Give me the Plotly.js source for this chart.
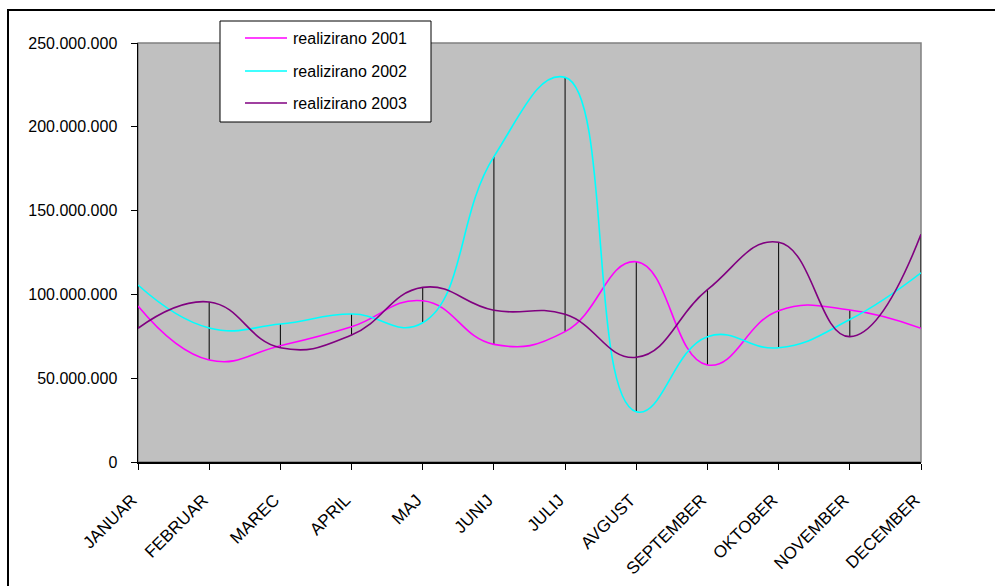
<!DOCTYPE html>
<html>
<head>
<meta charset="utf-8">
<script src="https://cdn.plot.ly/plotly-3.0.1.min.js"></script>
<style>
  html, body { margin: 0; padding: 0; background: #fff; }
  #wrap { position: relative; width: 995px; height: 586px; overflow: hidden; }
  #chart { position: absolute; left: 0; top: 0; width: 995px; height: 586px; }
  #frame { position: absolute; left: 7px; top: 9px; width: 1100px; height: 700px;
           border-left: 2px solid #000; border-top: 2px solid #000; pointer-events: none; }
</style>
</head>
<body>
<div id="wrap">
  <div id="chart"></div>
  <div id="frame"></div>
</div>
<script>
const months = ["JANUAR","FEBRUAR","MAREC","APRIL","MAJ","JUNIJ","JULIJ","AVGUST","SEPTEMBER","OKTOBER","NOVEMBER","DECEMBER"];
const real2001 = [93100000, 60900000, 69400000, 80700000, 96200000, 70200000, 77800000, 119500000, 57900000, 90300000, 90700000, 79800000];
const real2002 = [105600000, 80000000, 82300000, 88300000, 83100000, 182200000, 229500000, 30000000, 74800000, 68200000, 85000000, 112900000];
const real2003 = [79800000, 95500000, 68200000, 75800000, 104200000, 90500000, 88100000, 62500000, 102800000, 131100000, 74800000, 135800000];
const seriesNames = ["realizirano 2001", "realizirano 2002", "realizirano 2003"];
const colors = ["#FF00FF", "#00FFFF", "#800080"];
const allSeries = [real2001, real2002, real2003];

// high-low lines built from the data
const hlX = [], hlY = [];
months.forEach((m, i) => {
  const vals = allSeries.map(s => s[i]);
  hlX.push(m, m, null);
  hlY.push(Math.max(...vals), Math.min(...vals), null);
});

const data = [
  { x: hlX, y: hlY, type: "scatter", mode: "lines", line: { color: "#000", width: 1 },
    showlegend: false, hoverinfo: "skip", connectgaps: false }
];
allSeries.forEach((s, k) => {
  data.push({ x: months, y: s, name: seriesNames[k], type: "scatter", mode: "lines",
    line: { color: colors[k], width: 1.6, shape: "spline", smoothing: 1.3 }, showlegend: false });
});

// custom legend box (pixel geometry converted to paper coords)
const L = 138, R = 921, T = 43, B = 462;
const px = x => (x - L) / (R - L);
const py = y => (B - y) / (B - T);
const shapes = [
  { type: "rect", xref: "paper", yref: "paper", x0: 0, x1: 1, y0: 0, y1: 1,
    line: { color: "#808080", width: 1.5 }, layer: "below" },
  { type: "rect", xref: "paper", yref: "paper", x0: px(220), x1: px(431), y0: py(122), y1: py(21),
    fillcolor: "#fff", line: { color: "#000", width: 1 }, layer: "above" }
];
const annotations = [];
const rowY = [38, 71, 103];
seriesNames.forEach((n, k) => {
  shapes.push({ type: "line", xref: "paper", yref: "paper", x0: px(245), x1: px(287),
    y0: py(rowY[k]), y1: py(rowY[k]), line: { color: colors[k], width: 1.6 }, layer: "above" });
  annotations.push({ xref: "paper", yref: "paper", x: px(291), y: py(rowY[k]), text: n,
    showarrow: false, xanchor: "left", yanchor: "middle", font: { size: 16, color: "#000" } });
});

const layout = {
  width: 995, height: 586,
  margin: { l: 138, r: 74, t: 43, b: 124 },
  paper_bgcolor: "#fff",
  plot_bgcolor: "#C0C0C0",
  separators: ",.",
  font: { family: "Liberation Sans, Arial, sans-serif", size: 16, color: "#000" },
  showlegend: false,
  xaxis: {
    type: "category", range: [0, 11], showgrid: false, zeroline: false,
    showline: true, linecolor: "#000", linewidth: 1.5,
    ticks: "outside", ticklen: 6, tickcolor: "#000", tickwidth: 1,
    tickangle: -45, tickfont: { size: 17 }, ticklabelstandoff: 14, ticklabelshift: -6, fixedrange: true
  },
  yaxis: {
    range: [0, 250000000], dtick: 50000000, tickformat: ",d", showgrid: false, zeroline: false,
    showline: true, linecolor: "#000", linewidth: 1.5,
    ticks: "outside", ticklen: 6, tickcolor: "#000", tickwidth: 1,
    tickfont: { size: 16 }, ticklabelstandoff: 10, fixedrange: true
  },
  shapes: shapes,
  annotations: annotations,
  hovermode: false
};

Plotly.newPlot("chart", data, layout, { displayModeBar: false, staticPlot: true });
</script>
</body>
</html>
